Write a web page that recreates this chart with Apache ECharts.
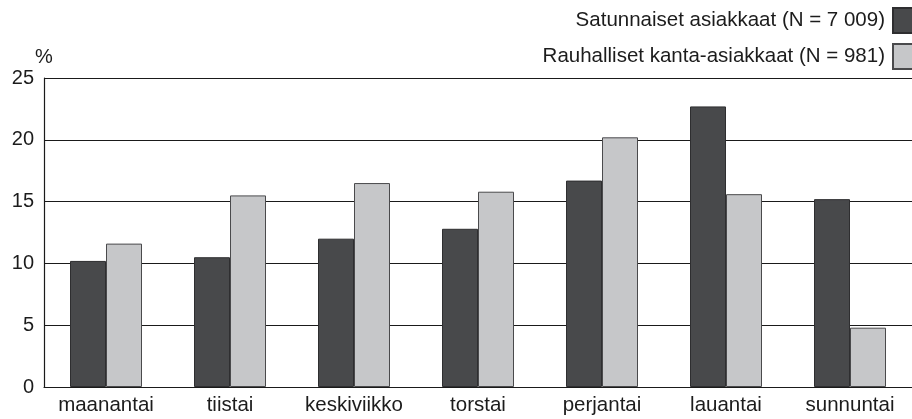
<!DOCTYPE html>
<html>
<head>
<meta charset="utf-8">
<script src="https://cdn.jsdelivr.net/npm/echarts@6/dist/echarts.min.js"></script>
<style>
  html, body { margin: 0; padding: 0; background: #fff; }
  #chart { width: 912px; height: 419px; }
</style>
</head>
<body>
<div id="chart"></div>
<script>
// viikonpäivät
const days = ['maanantai', 'tiistai', 'keskiviikko', 'torstai', 'perjantai', 'lauantai', 'sunnuntai']
const nameRandom = 'Satunnaiset asiakkaat (N = 7 009)'
const nameCalm = 'Rauhalliset kanta-asiakkaat (N = 981)'
const randomValues = [10.2, 10.5, 12.0, 12.8, 16.7, 22.7, 15.2]
const calmValues = [11.6, 15.5, 16.5, 15.8, 20.2, 15.6, 4.8]

const font = 'Liberation Sans, Arial, Helvetica, sans-serif'

const chart = echarts.init(document.getElementById('chart'))

const option = {
  animation: false,
  textStyle: { fontFamily: font, color: '#1c1c1c' },
  legend: {
    orient: 'vertical',
    right: -9,
    top: 2,
    align: 'right',
    itemWidth: 22,
    itemHeight: 25,
    itemGap: 9,
    icon: 'rect',
    data: [nameRandom, nameCalm],
    textStyle: { fontSize: 20.5, color: '#1c1c1c', fontFamily: font, padding: [0, 3, 0, 0] }
  },
  grid: {
    left: 44,
    top: 78,
    width: 876,
    bottom: 32
  },
  xAxis: {
    type: 'category',
    data: days,
    axisLine: { lineStyle: { color: '#1a1a1a', width: 1.2 } },
    axisTick: { show: false },
    axisLabel: { color: '#1c1c1c', fontSize: 20.5, margin: 8, interval: 0 }
  },
  yAxis: {
    type: 'value',
    min: 0,
    max: 25,
    interval: 5,
    name: '%',
    nameLocation: 'end',
    nameGap: 11,
    nameTextStyle: { color: '#1c1c1c', fontSize: 20, align: 'center' },
    axisLine: { show: true, lineStyle: { color: '#1a1a1a', width: 1.2 } },
    axisTick: { show: false },
    axisLabel: { color: '#1c1c1c', fontSize: 20, margin: 10 },
    splitLine: { lineStyle: { color: '#1a1a1a', width: 1.2 } }
  },
  series: [
    {
      name: nameRandom,
      type: 'bar',
      data: randomValues,
      barWidth: 36,
      barGap: '0%',
      itemStyle: { color: '#48494b', borderColor: '#2e2e30', borderWidth: 1 }
    },
    {
      name: nameCalm,
      type: 'bar',
      data: calmValues,
      barWidth: 36,
      barGap: '0%',
      itemStyle: { color: '#c6c7c9', borderColor: '#4a4a4c', borderWidth: 1 }
    }
  ]
}

chart.setOption(option)
window.addEventListener('resize', () => {
  chart.resize()
})
</script>
</body>
</html>
